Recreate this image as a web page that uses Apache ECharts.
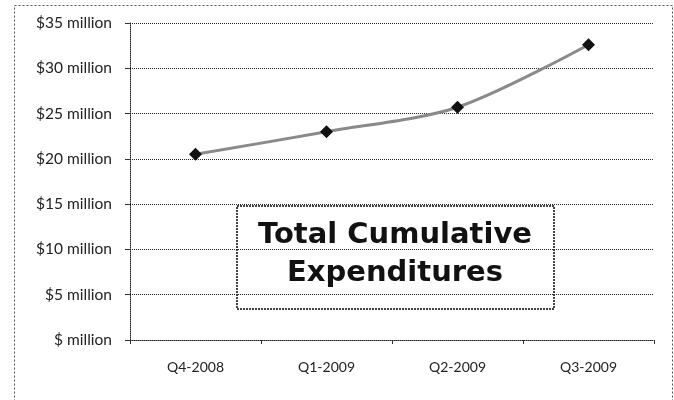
<!DOCTYPE html>
<html>
<head>
<meta charset="utf-8">
<script src="https://cdn.jsdelivr.net/npm/echarts@6/dist/echarts.min.js"></script>
<style>
  html, body { margin: 0; padding: 0; background: #fff; }
  #chart { width: 674px; height: 400px; }
</style>
</head>
<body>
<div id="chart"></div>
<script>
// quarters on the x axis
const quarters = ["Q4-2008", "Q1-2009", "Q2-2009", "Q3-2009"];
// cumulative spend, $ million
const totals = [20.5, 23.0, 25.7, 32.6];
// y ticks
const yMin = 0;
const yMax = 35;
const yStep = 5;

const chart = echarts.init(document.getElementById("chart"));

const option = {
  backgroundColor: "#fff",
  animation: false,
  grid: { left: 130, right: 20, top: 23, bottom: 60 },
  xAxis: {
    type: "category",
    data: quarters,
    boundaryGap: true,
    axisLine: { lineStyle: { color: "#222", type: "dotted", width: 1 } },
    axisTick: { show: true, length: 4, lineStyle: { color: "#333" } },
    axisLabel: {
      margin: 20,
      fontFamily: "Lato",
      fontSize: 14,
      color: "#222"
    },
    splitLine: { show: false }
  },
  yAxis: {
    type: "value",
    min: yMin,
    max: yMax,
    interval: yStep,
    axisLine: { show: true, lineStyle: { color: "#222", type: "dotted", width: 1 } },
    axisTick: { show: true, inside: false, length: 5, lineStyle: { color: "#333" } },
    axisLabel: {
      margin: 18,
      fontFamily: "Lato",
      fontSize: 15.5,
      color: "#222",
      formatter: function (v) {
        return v === 0 ? "$ million" : "$" + v + " million";
      }
    },
    splitLine: { show: true, lineStyle: { color: "#222", type: "dotted", width: 1 } }
  },
  series: [
    {
      type: "line",
      data: totals,
      smooth: 0.3,
      symbol: "diamond",
      symbolSize: 13,
      itemStyle: { color: "#111" },
      lineStyle: { color: "#8a8a8a", width: 3 },
      z: 3
    }
  ],
  graphic: [
    {
      type: "rect",
      left: 12,
      top: 3,
      shape: { width: 658, height: 420 },
      style: { fill: "none", stroke: "#555", lineWidth: 1, lineDash: [2, 2] },
      silent: true,
      z: 0
    },
    {
      type: "group",
      left: 236,
      top: 205,
      z: 10,
      children: [
        {
          type: "rect",
          shape: { width: 317, height: 103 },
          style: { fill: "#fff", stroke: "#444", lineWidth: 2, lineDash: [2, 1] }
        },
        {
          type: "text",
          x: 158,
          y: 48,
          style: {
            text: "Total Cumulative\nExpenditures",
            align: "center",
            verticalAlign: "middle",
            fontFamily: "DejaVu Sans",
            fontWeight: "bold",
            fontSize: 29,
            lineHeight: 38,
            fill: "#111"
          }
        }
      ]
    }
  ]
};

chart.setOption(option);
</script>
</body>
</html>
